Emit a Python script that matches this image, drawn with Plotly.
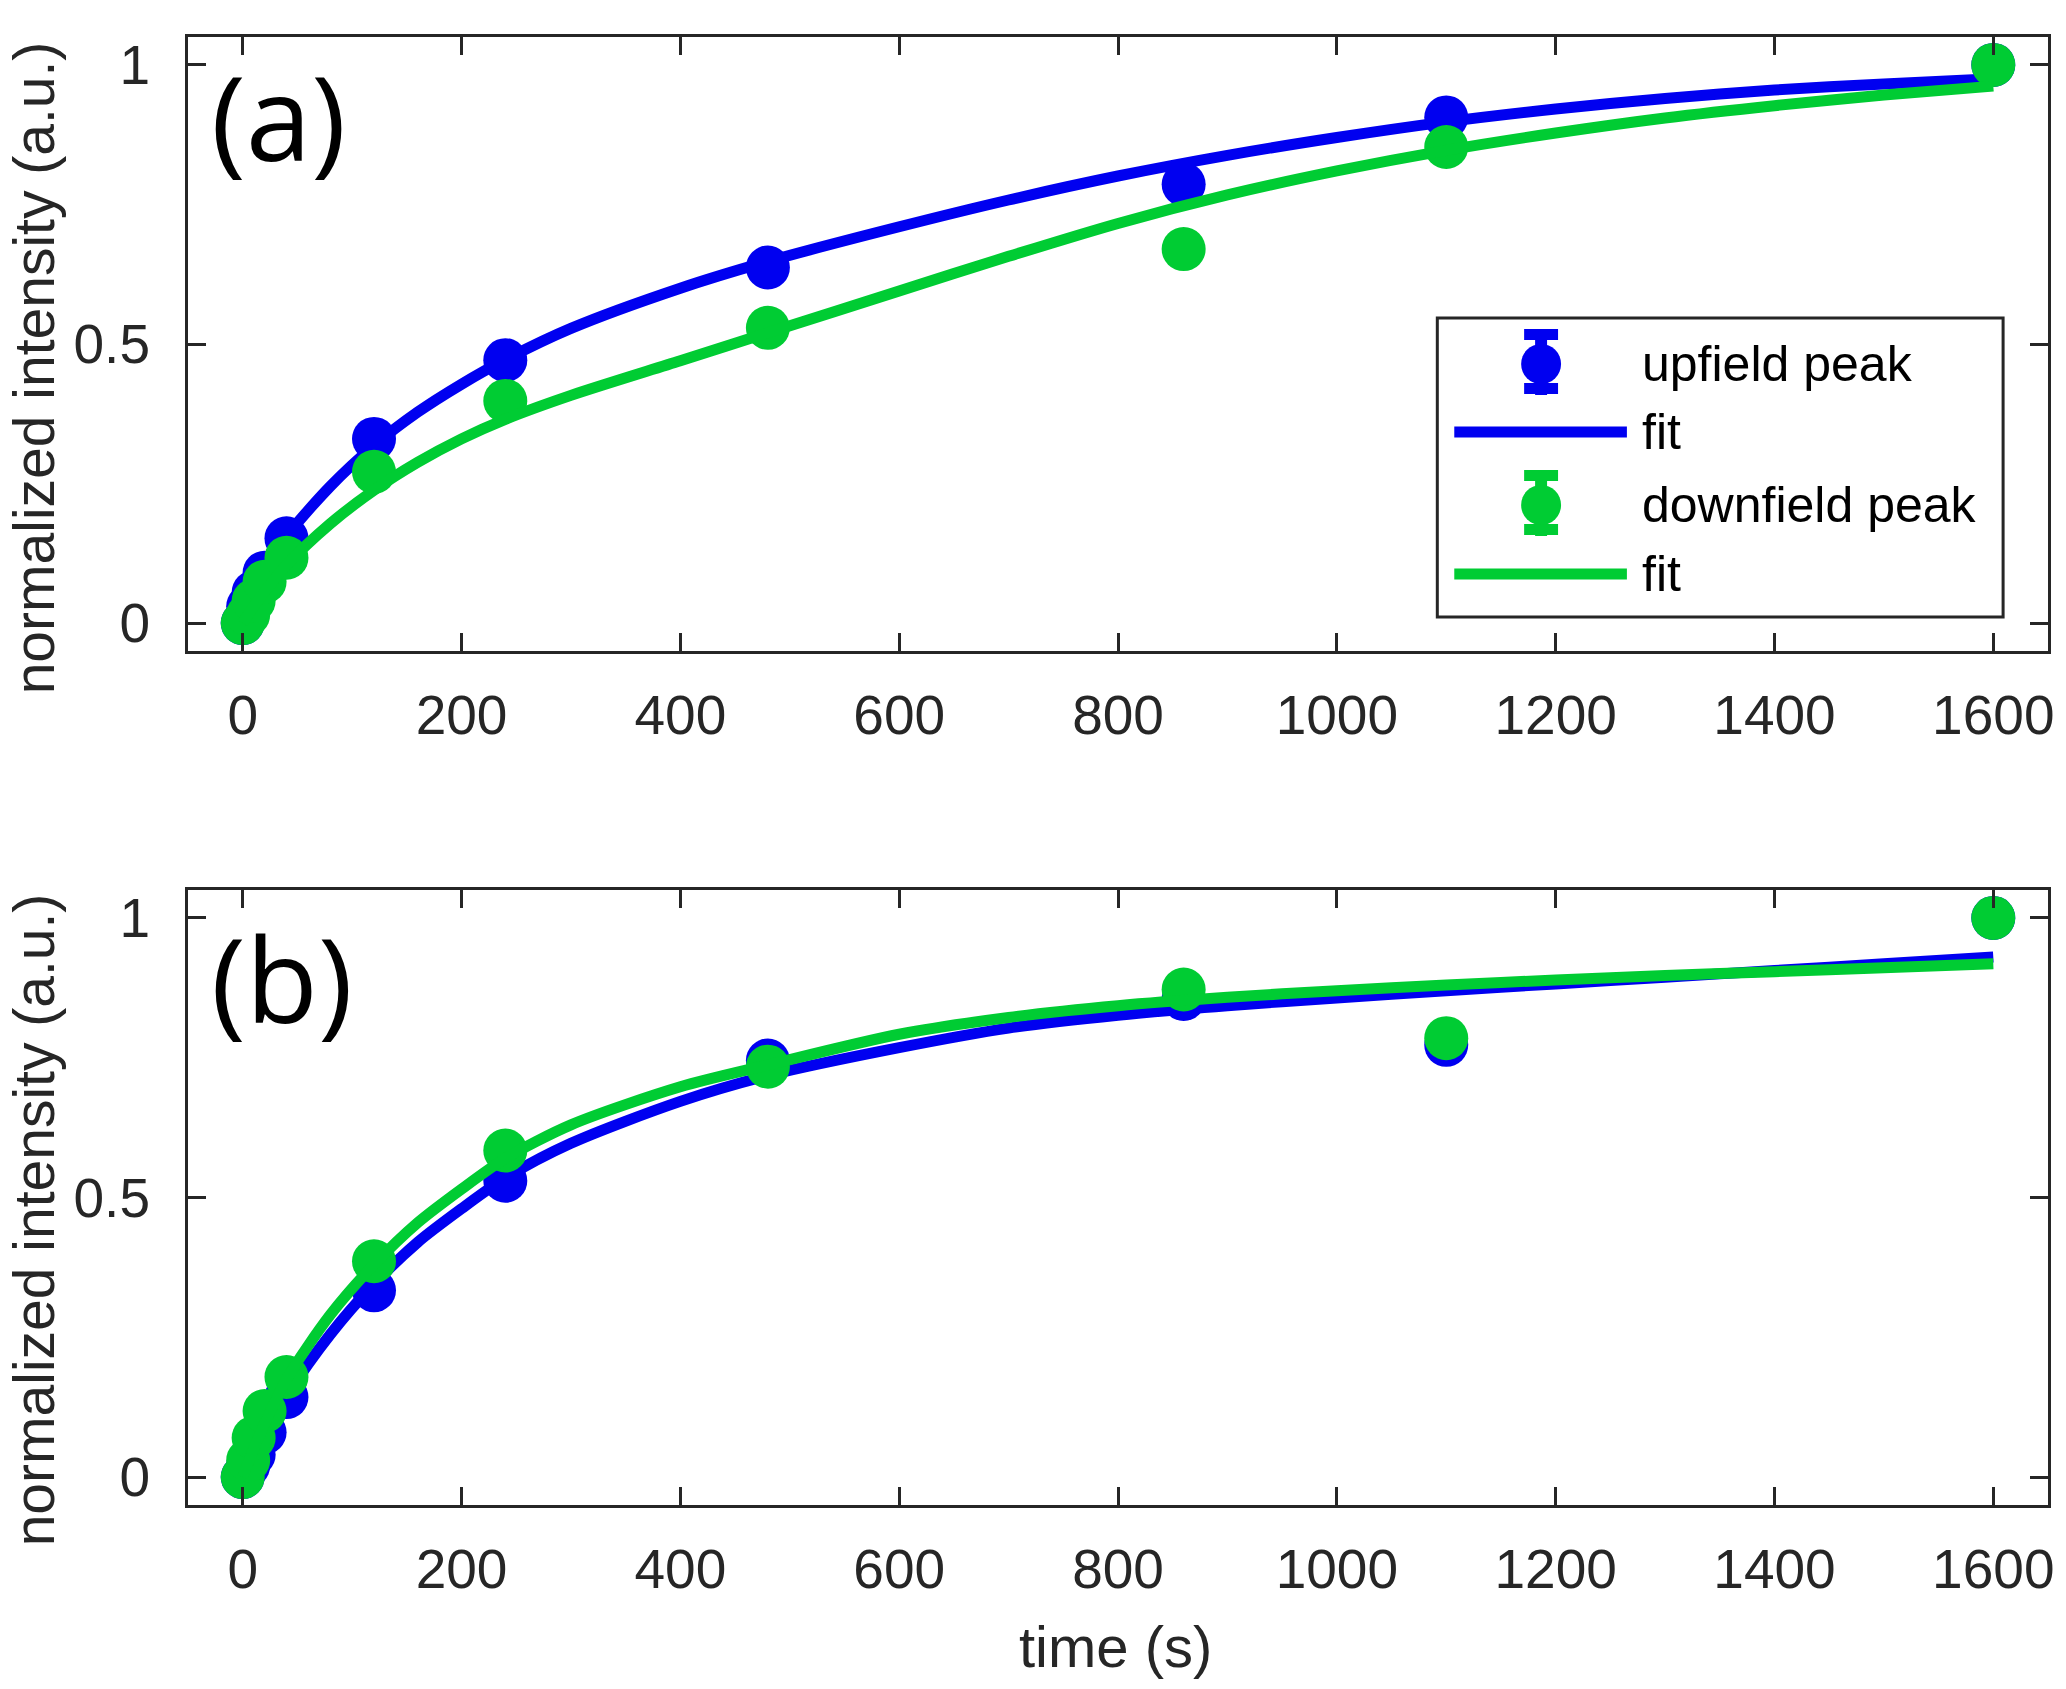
import plotly.graph_objects as go

# ---------------- data ----------------
t = [0, 5, 10, 20, 40, 120, 240, 480, 860, 1100, 1600]
a_up = [0, 0.03, 0.055, 0.09, 0.152, 0.330, 0.471, 0.637, 0.786, 0.906, 1.0]
a_down = [0, 0.015, 0.04, 0.074, 0.117, 0.271, 0.398, 0.529, 0.670, 0.853, 1.0]
b_up = [0, 0.02, 0.04, 0.08, 0.143, 0.334, 0.530, 0.745, 0.855, 0.773, 1.0]
b_down = [0, 0.03, 0.07, 0.118, 0.179, 0.386, 0.584, 0.734, 0.872, 0.785, 1.0]

t_fit = [0, 10, 20, 40, 80, 120, 160, 200, 240, 300, 400, 480, 600, 700, 800,
         900, 1000, 1100, 1200, 1300, 1400, 1500, 1600]
fa_up = [0, 0.05, 0.09, 0.155, 0.245, 0.318, 0.378, 0.428, 0.472, 0.528, 0.600,
         0.648, 0.710, 0.758, 0.801, 0.838, 0.870, 0.898, 0.921, 0.940, 0.955, 0.966, 0.975]
fa_down = [0, 0.030, 0.056, 0.104, 0.178, 0.238, 0.288, 0.330, 0.365, 0.408, 0.470,
           0.520, 0.595, 0.657, 0.716, 0.767, 0.810, 0.847, 0.878, 0.905, 0.927, 0.946, 0.962]
fb_up = [0, 0.04, 0.078, 0.145, 0.255, 0.345, 0.420, 0.480, 0.535, 0.597, 0.672,
         0.718, 0.768, 0.803, 0.826, 0.843, 0.857, 0.870, 0.882, 0.894, 0.906, 0.918, 0.930]
fb_down = [0, 0.05, 0.095, 0.175, 0.290, 0.380, 0.455, 0.515, 0.570, 0.630, 0.698,
           0.737, 0.792, 0.822, 0.843, 0.858, 0.870, 0.880, 0.889, 0.897, 0.904, 0.911, 0.918]

x_ticks = [0, 200, 400, 600, 800, 1000, 1200, 1400, 1600]
y_ticks = [0, 0.5, 1]
y_ticktext = ["0", "0.5", "1"]
legend_labels = ["upfield peak", "fit", "downfield peak", "fit"]
panel_labels = ["(a)", "(b)"]
x_title = "time (s)"
y_title = "normalized intensity (a.u.)"

# ---------------- style ----------------
BLUE = "#0000F0"
GREEN = "#00CC33"
AX = "#262626"
FONT = "Liberation Sans, Arial, sans-serif"
W, H = 2066, 1689
L, R, T, B = 188, 14, 37, 184
PW, PH = W - L - R, H - T - B


def X(px):
    return (px - L) / PW


def Y(py):
    return (H - B - py) / PH


MS = 44
LW = 11

fig = go.Figure()
panels = [("x", "y", a_up, a_down, fa_up, fa_down),
          ("x2", "y2", b_up, b_down, fb_up, fb_down)]
for xa, ya, up, down, fup, fdown in panels:
    fig.add_trace(go.Scatter(x=t, y=up, mode="markers", xaxis=xa, yaxis=ya,
                             marker=dict(color=BLUE, size=MS, line=dict(width=0)),
                             showlegend=False))
    fig.add_trace(go.Scatter(x=t_fit, y=fup, mode="lines", xaxis=xa, yaxis=ya,
                             line=dict(color=BLUE, width=LW, shape="spline", smoothing=0.8),
                             showlegend=False))
    fig.add_trace(go.Scatter(x=t, y=down, mode="markers", xaxis=xa, yaxis=ya,
                             marker=dict(color=GREEN, size=MS, line=dict(width=0)),
                             showlegend=False))
    fig.add_trace(go.Scatter(x=t_fit, y=fdown, mode="lines", xaxis=xa, yaxis=ya,
                             line=dict(color=GREEN, width=LW, shape="spline", smoothing=0.8),
                             showlegend=False))

axis_common = dict(showline=True, linewidth=3, linecolor=AX, mirror="ticks",
                   ticks="inside", ticklen=18, tickwidth=2.5, tickcolor=AX,
                   showgrid=False, zeroline=False,
                   tickfont=dict(family=FONT, size=55, color=AX))
xa = dict(axis_common, range=[-50, 1650], tickvals=x_ticks, ticklabelstandoff=14)
ya = dict(axis_common, range=[-0.05, 1.05], tickvals=y_ticks, ticktext=y_ticktext,
          ticklabelstandoff=24)

top_dom = [Y(651), 1.0]
bot_dom = [0.0, Y(890)]

fig.update_layout(
    width=W, height=H,
    margin=dict(l=L, r=R, t=T, b=B),
    paper_bgcolor="white", plot_bgcolor="white",
    showlegend=False,
    xaxis=dict(xa, anchor="y", domain=[0, 1]),
    yaxis=dict(ya, anchor="x", domain=top_dom),
    xaxis2=dict(xa, anchor="y2", domain=[0, 1]),
    yaxis2=dict(ya, anchor="x2", domain=bot_dom),
)

ann = []
# panel labels
ann.append(dict(text=panel_labels[0], x=X(279), y=Y(116), xref="paper", yref="paper",
                showarrow=False, xanchor="center", yanchor="middle",
                font=dict(family="Open Sans, sans-serif", size=118, color="black")))
ann.append(dict(text=panel_labels[1], x=X(282), y=Y(978), xref="paper", yref="paper",
                showarrow=False, xanchor="center", yanchor="middle",
                font=dict(family="Open Sans, sans-serif", size=118, color="black")))
# axis titles
for cy in (368, 1220):
    ann.append(dict(text=y_title, x=X(34), y=Y(cy), xref="paper", yref="paper",
                    showarrow=False, textangle=-90, xanchor="center", yanchor="middle",
                    font=dict(family=FONT, size=57, color=AX)))
ann.append(dict(text=x_title, x=X(1117), y=Y(1646), xref="paper", yref="paper",
                showarrow=False, xanchor="center", yanchor="middle",
                font=dict(family=FONT, size=58, color=AX)))

# custom legend (matches the wide MATLAB legend)
shapes = []
shapes.append(dict(type="rect", xref="paper", yref="paper", x0=X(1440), x1=X(2007),
                   y0=Y(617), y1=Y(318), line=dict(color=AX, width=3),
                   fillcolor="white", layer="above"))
rows_y = [364, 432, 505, 574]
cols = [BLUE, BLUE, GREEN, GREEN]
mx = 1544
for i, (ry, c) in enumerate(zip(rows_y, cols)):
    if i % 2 == 0:
        # error bar: stem + caps
        shapes.append(dict(type="rect", xref="paper", yref="paper",
                           x0=X(mx - 6), x1=X(mx + 6), y0=Y(ry + 31), y1=Y(ry - 34),
                           line=dict(width=0), fillcolor=c, layer="above"))
        shapes.append(dict(type="rect", xref="paper", yref="paper",
                           x0=X(mx - 17), x1=X(mx + 17), y0=Y(ry - 24), y1=Y(ry - 35),
                           line=dict(width=0), fillcolor=c, layer="above"))
        shapes.append(dict(type="rect", xref="paper", yref="paper",
                           x0=X(mx - 17), x1=X(mx + 17), y0=Y(ry + 30), y1=Y(ry + 19),
                           line=dict(width=0), fillcolor=c, layer="above"))
        shapes.append(dict(type="circle", xref="paper", yref="paper",
                           x0=X(mx - 20), x1=X(mx + 20), y0=Y(ry + 20), y1=Y(ry - 20),
                           line=dict(width=0), fillcolor=c, layer="above"))
    else:
        shapes.append(dict(type="line", xref="paper", yref="paper",
                           x0=X(1457), x1=X(1630), y0=Y(ry), y1=Y(ry),
                           line=dict(color=c, width=11), layer="above"))
    ann.append(dict(text=legend_labels[i], x=X(1643), y=Y(ry), xref="paper", yref="paper",
                    showarrow=False, xanchor="left", yanchor="middle",
                    font=dict(family=FONT, size=50, color="black")))

fig.update_layout(annotations=ann, shapes=shapes)
fig.write_html("out.html")
